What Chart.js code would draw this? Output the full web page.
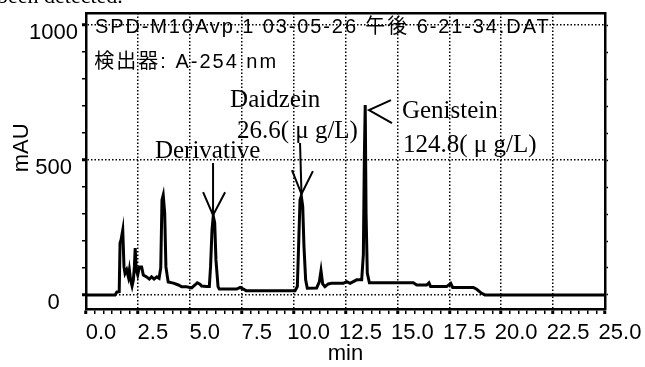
<!DOCTYPE html>
<html>
<head>
<meta charset="utf-8">
<script src="https://cdn.jsdelivr.net/npm/chart.js@4.4.1/dist/chart.umd.min.js"></script>
<style>
    html, body { margin: 0; padding: 0; background: #fff; }
    #lienzo { position: relative; width: 645px; height: 367px; overflow: hidden; }
    #recorte { position: absolute; left: -3px; top: -15px; font: 22px "Liberation Serif", serif; line-height: 1; white-space: nowrap; color: #000; }
</style>
</head>
<body>
<div id="lienzo">
    <canvas id="grafico" width="645" height="367"></canvas>
    <div id="recorte">been detected.</div>
</div>
<script>
const tiempos = [
    0, 1.40, 1.49, 1.60, 1.64, 1.69, 1.77, 1.83, 1.88, 1.96, 2.04, 2.09, 2.15, 2.22, 2.28, 2.33,
    2.37, 2.42, 2.49, 2.57, 2.68, 2.76, 2.92, 3.05, 3.16, 3.28, 3.41, 3.52, 3.60, 3.66, 3.72, 3.79,
    3.85, 3.92, 3.96, 4.21, 4.45, 4.61, 4.85, 5.09, 5.25, 5.36, 5.49, 5.57, 5.81, 5.94, 6.00, 6.07,
    6.13, 6.20, 6.26, 6.36, 6.42, 7.26, 7.42, 7.58, 7.71, 10.07, 10.18, 10.24, 10.31, 10.37, 10.44,
    10.50, 10.58, 10.66, 11.11, 11.24, 11.32, 11.40, 11.51, 11.67, 11.83, 12.39, 12.56, 12.72, 13.04,
    13.28, 13.36, 13.41, 13.45, 13.49, 13.55, 13.65, 15.77, 15.93, 16.41, 16.52, 16.60, 17.37, 17.57,
    17.66, 18.66, 18.82, 19.06, 19.22, 25.00
];
const absorbancia = [
    0, 0, 11, 12, 193, 205, 240, 104, 80, 93, 67, 93, 55, 33, 55, 104,
    174, 93, 74, 104, 104, 74, 67, 59, 67, 59, 67, 62, 100, 352, 370, 304,
    104, 67, 48, 44, 37, 30, 30, 26, 37, 45, 40, 33, 31, 31, 105, 241,
    293, 267, 130, 31, 22, 22, 28, 22, 16, 16, 31, 179, 352, 367, 327,
    179, 56, 25, 26, 49, 90, 41, 31, 41, 43, 43, 49, 43, 56,
    56, 150, 520, 704, 304, 81, 45, 45, 37, 37, 45, 31, 31, 43,
    28, 28, 21, 6, 0, 0
];

// Marcas de los ejes
const marcasPrincipalesY = [0, 500, 1000];
const pasoMenorY = 100;
const pasoPrincipalX = 2.5;
const subdivisionesX = 6;
const rangoX = [0, 25];
const rangoY = [-52, 1045];

const SANS = "'Liberation Sans', 'Noto Sans CJK JP', sans-serif";
const SERIF = "'Liberation Serif', serif";

// Textos y flechas, en unidades de los ejes (min, mAU)
const textos = [
    { texto: 'SPD-M10Avp.1 03-05-26 午後 6-21-34.DAT', t: 0.43, v: 970, fuente: `20px ${SANS}`, espaciado: '1.9px' },
    { texto: '検出器: A-254 nm', t: 0.40, v: 841, fuente: `20px ${SANS}`, espaciado: '2px' },
    { texto: 'Daidzein', t: 6.94, v: 696, fuente: `25px ${SERIF}` },
    { texto: '26.6( μ g/L)', t: 7.27, v: 581, fuente: `25px ${SERIF}` },
    { texto: 'Derivative', t: 3.32, v: 507, fuente: `25px ${SERIF}` },
    { texto: 'Genistein', t: 15.22, v: 656, fuente: `25px ${SERIF}` },
    { texto: '124.8( μ g/L)', t: 15.27, v: 530, fuente: `25px ${SERIF}` }
];
const flechas = [
    [[6.12, 489], [6.12, 296]],
    [[5.64, 381], [6.12, 296], [6.70, 381]],
    [[10.31, 563], [10.38, 374]],
    [[9.92, 463], [10.38, 374], [10.93, 459]],
    [[14.69, 722], [13.63, 685], [14.74, 637]]
];
// Título del eje vertical: centro en (min, mAU), fuera del área del gráfico
const tituloY = { texto: 'mAU', t: -3.08, v: 545 };

function esMayorX(valor) {
    const k = valor / pasoPrincipalX;
    return Math.abs(k - Math.round(k)) < 1e-6;
}

function esMayorY(valor) {
    return marcasPrincipalesY.includes(valor);
}

function sinRelleno(scale) {
    scale.paddingTop = 0;
    scale.paddingBottom = 0;
    scale.paddingLeft = 0;
    scale.paddingRight = 0;
}

function marcasX(scale) {
    const paso = pasoPrincipalX / subdivisionesX;
    const n = Math.round((rangoX[1] - rangoX[0]) / paso);
    scale.ticks = Array.from({ length: n + 1 }, (_, k) => ({ value: rangoX[0] + k * paso }));
}

function marcasY(scale) {
    const n = Math.round(marcasPrincipalesY[marcasPrincipalesY.length - 1] / pasoMenorY);
    scale.ticks = Array.from({ length: n + 1 }, (_, k) => ({ value: k * pasoMenorY }));
}

const pluginAnotaciones = {
    id: 'anotaciones',
    afterDatasetsDraw(chart) {
        const { ctx, scales: { x, y } } = chart;
        ctx.save();
        ctx.fillStyle = '#000';
        ctx.textAlign = 'left';
        ctx.textBaseline = 'alphabetic';
        textos.forEach(item => {
            ctx.font = item.fuente;
            ctx.letterSpacing = item.espaciado || '0px';
            ctx.fillText(item.texto, x.getPixelForValue(item.t), y.getPixelForValue(item.v));
        });
        ctx.letterSpacing = '0px';

        // Título vertical "mAU"
        ctx.save();
        ctx.translate(x.getPixelForValue(tituloY.t), y.getPixelForValue(tituloY.v));
        ctx.rotate(-Math.PI / 2);
        ctx.font = `22px ${SANS}`;
        ctx.textAlign = 'center';
        ctx.textBaseline = 'middle';
        ctx.fillText(tituloY.texto, 0, 0);
        ctx.restore();

        ctx.strokeStyle = '#000';
        ctx.lineWidth = 2;
        flechas.forEach(trazo => {
            ctx.beginPath();
            trazo.forEach(([t, v], i) => {
                const px = x.getPixelForValue(t);
                const py = y.getPixelForValue(v);
                if (i === 0) ctx.moveTo(px, py); else ctx.lineTo(px, py);
            });
            ctx.stroke();
        });
        ctx.restore();
    }
};

const puntos = tiempos.map((t, i) => ({ x: t, y: absorbancia[i] }));
const punteado = [1.5, 2];

new Chart(document.getElementById('grafico'), {
    type: 'scatter',
    data: {
        datasets: [{
            data: puntos,
            showLine: true,
            borderColor: '#000',
            borderWidth: 3,
            pointRadius: 0,
            tension: 0
        }]
    },
    options: {
        responsive: false,
        animation: false,
        layout: { padding: { top: 13, left: 0, right: 0, bottom: 0 } },
        plugins: { legend: { display: false }, tooltip: { enabled: false } },
        scales: {
            x: {
                type: 'linear',
                position: 'bottom',
                min: rangoX[0],
                max: rangoX[1],
                afterBuildTicks: marcasX,
                afterFit(scale) { scale.height = 58; sinRelleno(scale); },
                ticks: {
                    autoSkip: false,
                    maxRotation: 0,
                    padding: 6,
                    labelOffset: 15,
                    color: '#000',
                    font: { family: SANS, size: 22 },
                    callback: valor => esMayorX(valor) ? valor.toFixed(1) : ''
                },
                grid: {
                    color: ctx => ctx.tick && esMayorX(ctx.tick.value) ? '#000' : 'rgba(0,0,0,0)',
                    lineWidth: 1.5,
                    tickColor: '#000',
                    tickLength: 5,
                    tickWidth: ctx => ctx.tick && esMayorX(ctx.tick.value) ? 3 : 1.5
                },
                border: { display: true, color: '#000', width: 2.5, dash: punteado },
                title: {
                    display: true,
                    text: 'min',
                    color: '#000',
                    font: { family: SANS, size: 22 },
                    padding: { top: 0, bottom: 0 }
                }
            },
            arriba: {
                type: 'linear',
                position: 'top',
                min: rangoX[0],
                max: rangoX[1],
                afterFit(scale) { scale.height = 0; sinRelleno(scale); },
                ticks: { display: false },
                grid: { drawOnChartArea: false, drawTicks: false },
                border: { display: true, color: '#000', width: 2.5 }
            },
            y: {
                type: 'linear',
                position: 'left',
                min: rangoY[0],
                max: rangoY[1],
                afterBuildTicks: marcasY,
                afterFit(scale) { scale.width = 86; sinRelleno(scale); },
                ticks: {
                    autoSkip: false,
                    padding: 4,
                    labelOffset: 8,
                    crossAlign: 'center',
                    color: '#000',
                    font: { family: SANS, size: 22 },
                    callback: valor => esMayorY(valor) ? String(valor) : ''
                },
                grid: {
                    color: ctx => ctx.tick && esMayorY(ctx.tick.value) ? '#000' : 'rgba(0,0,0,0)',
                    lineWidth: 1.5,
                    tickColor: '#000',
                    tickLength: 4,
                    tickWidth: ctx => ctx.tick && esMayorY(ctx.tick.value) ? 3 : 1.5
                },
                border: { display: true, color: '#000', width: 2.5, dash: punteado },
                title: { display: false }
            },
            derecha: {
                type: 'linear',
                position: 'right',
                min: rangoY[0],
                max: rangoY[1],
                afterBuildTicks: marcasY,
                afterFit(scale) { scale.width = 40; sinRelleno(scale); },
                ticks: { display: false },
                grid: {
                    drawOnChartArea: false,
                    tickColor: '#000',
                    tickLength: 3,
                    tickWidth: 1.5
                },
                border: { display: true, color: '#000', width: 2.5 }
            }
        }
    },
    plugins: [pluginAnotaciones]
});
</script>
</body>
</html>
